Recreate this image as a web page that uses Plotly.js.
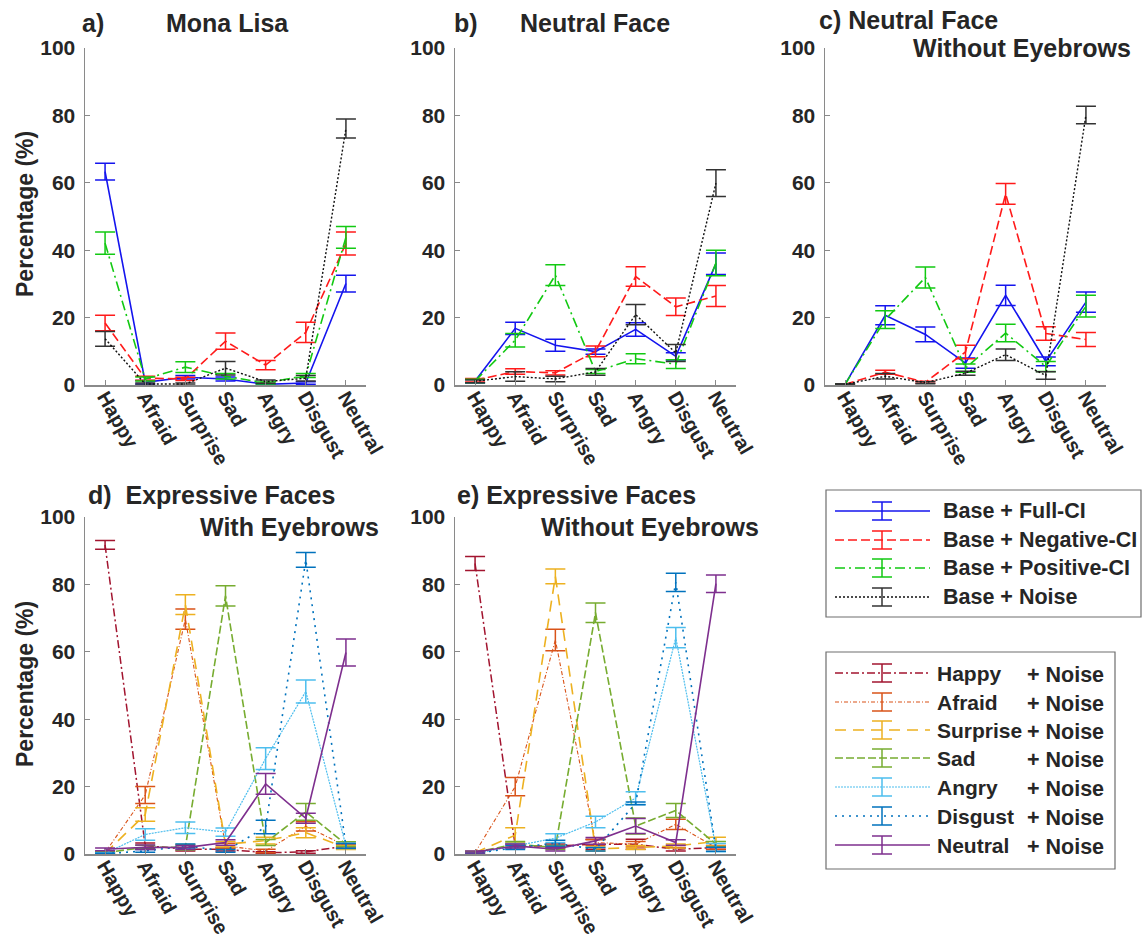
<!DOCTYPE html>
<html>
<head>
<meta charset="utf-8">
<script src="https://cdn.plot.ly/plotly-3.0.1.min.js"></script>
<style>html,body{margin:0;padding:0;background:#fff;}#chart{width:1142px;height:939px;}</style>
</head>
<body>
<div id="chart"></div>
<script>
// ---------- DATA ----------
const categories = ["Happy","Afraid","Surprise","Sad","Angry","Disgust","Neutral"];
const yTicks = [0,20,40,60,80,100];

// a) Mona Lisa
const monaFull      = [63.3, 0.8, 2.3, 1.8, 0.2, 0.6, 30.1];
const monaFullErr   = [2.5, 0.5, 0.5, 0.6, 0.2, 0.4, 2.5];
const monaNeg       = [18.4, 2.0, 1.8, 13.0, 5.9, 15.6, 42.0];
const monaNegErr    = [2.3, 0.6, 0.5, 2.4, 1.4, 3.0, 3.4];
const monaPos       = [42.1, 1.8, 5.3, 2.6, 0.6, 2.8, 43.8];
const monaPosErr    = [3.3, 0.6, 1.6, 0.8, 0.3, 0.6, 3.2];
const monaNoise     = [13.7, 0.3, 0.3, 5.0, 1.0, 2.0, 76.1];
const monaNoiseErr  = [2.2, 0.3, 0.3, 2.0, 0.5, 0.8, 2.8];

// b) Neutral Face
const neutFull      = [1.2, 16.8, 11.8, 9.9, 16.5, 8.5, 36.0];
const neutFullErr   = [0.6, 1.8, 1.8, 0.8, 2.0, 1.1, 3.2];
const neutNeg       = [1.4, 4.0, 3.6, 10.0, 32.2, 23.2, 26.4];
const neutNegErr    = [0.5, 0.8, 0.6, 1.6, 2.9, 2.6, 3.1];
const neutPos       = [1.2, 13.3, 32.6, 4.0, 7.8, 6.2, 36.2];
const neutPosErr    = [0.5, 2.0, 3.1, 0.6, 1.5, 1.3, 3.8];
const neutNoise     = [1.1, 2.5, 1.8, 3.9, 20.9, 9.5, 59.9];
const neutNoiseErr  = [0.4, 1.4, 0.8, 1.0, 3.0, 2.5, 4.0];

// c) Neutral Face Without Eyebrows
const nobFull       = [0.2, 20.7, 15.0, 6.5, 26.6, 7.0, 24.6];
const nobFullErr    = [0.2, 2.8, 2.2, 1.5, 3.0, 1.3, 3.0];
const nobNeg        = [0.2, 3.8, 0.8, 9.8, 56.7, 15.3, 13.5];
const nobNegErr     = [0.2, 0.6, 0.3, 2.0, 3.1, 2.0, 2.1];
const nobPos        = [0.2, 19.4, 31.9, 5.0, 15.4, 5.5, 23.4];
const nobPosErr     = [0.2, 2.6, 3.1, 1.2, 2.6, 1.5, 3.2];
const nobNoise      = [0.2, 2.6, 0.7, 3.5, 9.0, 2.8, 80.1];
const nobNoiseErr   = [0.2, 0.8, 0.3, 0.6, 1.7, 1.1, 2.6];

// d) Expressive Faces With Eyebrows
const withHappy     = [91.7, 2.5, 1.4, 1.4, 0.4, 0.6, 2.4];
const withHappyErr  = [1.3, 0.8, 0.5, 0.5, 0.3, 0.4, 0.6];
const withAfraid    = [0.4, 17.5, 69.7, 2.4, 0.9, 8.2, 2.4];
const withAfraidErr = [0.3, 2.5, 3.0, 0.8, 0.5, 1.4, 0.7];
const withSurp      = [0.2, 11.7, 74.0, 2.9, 4.0, 6.3, 1.9];
const withSurpErr   = [0.2, 2.0, 2.9, 0.8, 1.0, 1.5, 0.6];
const withSad       = [0.4, 2.0, 2.0, 76.6, 3.4, 12.5, 2.9];
const withSadErr    = [0.3, 0.6, 0.8, 3.0, 0.9, 2.5, 0.7];
const withAngry     = [0.2, 5.8, 7.8, 6.5, 28.3, 48.2, 2.4];
const withAngryErr  = [0.2, 1.7, 1.7, 1.2, 3.2, 3.4, 0.8];
const withDisg      = [0.1, 0.9, 2.4, 0.9, 8.0, 87.3, 2.4];
const withDisgErr   = [0.1, 0.4, 0.6, 0.4, 2.0, 2.2, 0.7];
const withNeut      = [1.4, 2.0, 1.9, 3.4, 20.8, 10.6, 59.8];
const withNeutErr   = [0.4, 0.7, 0.6, 0.8, 3.1, 1.5, 4.0];

// e) Expressive Faces Without Eyebrows
const woHappy       = [86.2, 2.4, 2.4, 2.9, 2.9, 1.4, 1.9];
const woHappyErr    = [2.1, 0.6, 0.6, 1.5, 1.5, 0.5, 0.5];
const woAfraid      = [0.4, 20.0, 63.5, 3.4, 2.9, 8.8, 1.9];
const woAfraidErr   = [0.3, 2.7, 3.2, 0.8, 0.8, 1.5, 0.6];
const woSurp        = [0.4, 5.6, 82.4, 1.5, 1.9, 2.4, 3.7];
const woSurpErr     = [0.3, 2.2, 2.2, 0.6, 0.6, 0.6, 1.3];
const woSad         = [0.5, 2.9, 1.9, 71.6, 8.3, 12.9, 2.9];
const woSadErr      = [0.3, 0.8, 0.6, 2.9, 2.4, 2.1, 0.8];
const woAngry       = [0.1, 2.4, 4.7, 9.5, 16.6, 64.2, 1.9];
const woAngryErr    = [0.1, 0.7, 1.3, 1.7, 1.9, 3.0, 1.2];
const woDisg        = [0.1, 1.9, 3.2, 1.4, 15.0, 80.6, 1.4];
const woDisgErr     = [0.1, 0.6, 0.9, 0.5, 0.4, 2.7, 0.6];
const woNeut        = [0.6, 2.4, 1.4, 3.9, 8.3, 3.4, 80.2];
const woNeutErr     = [0.3, 0.6, 0.5, 1.0, 2.2, 0.8, 2.6];

const baseNames = ["Base + Full-CI","Base + Negative-CI","Base + Positive-CI","Base + Noise"];
const exprNames = ["Happy","Afraid","Surprise","Sad","Angry","Disgust","Neutral"];

// ---------- STYLES ----------
const baseStyles = [
  {color:"#1414ee", err:"#1414ee", dash:"solid", width:1.6},
  {color:"#ff1a1a", err:"#ff1a1a", dash:"9px,4px", width:1.6},
  {color:"#12c912", err:"#12c912", dash:"10px,4px,2px,4px", width:1.6},
  {color:"#111111", err:"#333333", dash:"2px,2px", width:1.4}
];
const exprStyles = [
  {color:"#A2142F", dash:"8px,3px,2px,3px", width:1.5},
  {color:"#D95319", dash:"4px,2px,1px,2px", width:1.1},
  {color:"#EDB120", dash:"11px,7px", width:1.6},
  {color:"#77AC30", dash:"8px,3px", width:1.6},
  {color:"#4DBEEE", dash:"2px,1px", width:1.2},
  {color:"#0072BD", dash:"2px,5px", width:1.6},
  {color:"#7E2F8E", dash:"solid", width:1.6}
];

const W = 1142, H = 939;
const px = x => x / W;
const py = y => 1 - y / H;
const FONT = "Liberation Sans, Arial, Helvetica, sans-serif";
const TXT = "#262626";

function mk(y, err, st, ax, errColor) {
  return {
    type: "scatter", mode: "lines", x: categories, y: y,
    xaxis: "x" + ax, yaxis: "y" + ax, showlegend: false, cliponaxis: false,
    line: {color: st.color, dash: st.dash, width: st.width},
    error_y: {type: "data", array: err, visible: true, width: 10, thickness: 1.5, color: errColor || st.color},
    hoverinfo: "skip"
  };
}

const baseSets = [
  [[monaFull,monaFullErr],[monaNeg,monaNegErr],[monaPos,monaPosErr],[monaNoise,monaNoiseErr]],
  [[neutFull,neutFullErr],[neutNeg,neutNegErr],[neutPos,neutPosErr],[neutNoise,neutNoiseErr]],
  [[nobFull,nobFullErr],[nobNeg,nobNegErr],[nobPos,nobPosErr],[nobNoise,nobNoiseErr]]
];
const exprSets = [
  [[withHappy,withHappyErr],[withAfraid,withAfraidErr],[withSurp,withSurpErr],[withSad,withSadErr],[withAngry,withAngryErr],[withDisg,withDisgErr],[withNeut,withNeutErr]],
  [[woHappy,woHappyErr],[woAfraid,woAfraidErr],[woSurp,woSurpErr],[woSad,woSadErr],[woAngry,woAngryErr],[woDisg,woDisgErr],[woNeut,woNeutErr]]
];

const traces = [];
baseSets.forEach((set, p) => {
  const ax = p === 0 ? "" : String(p + 1);
  set.forEach((s, i) => traces.push(mk(s[0], s[1], baseStyles[i], ax, baseStyles[i].err)));
});
exprSets.forEach((set, p) => {
  const ax = String(p + 4);
  set.forEach((s, i) => traces.push(mk(s[0], s[1], exprStyles[i], ax)));
});

// ---------- AXES ----------
const xDomains = [[85,366],[455,736],[825,1106],[85,366],[455,736]];
const yDomains = [[48,385],[48,385],[48,385],[517,854],[517,854]];
const layout = {
  width: W, height: H, margin: {l:0, r:0, t:0, b:0},
  paper_bgcolor: "#fff", plot_bgcolor: "rgba(0,0,0,0)",
  showlegend: false, annotations: [], shapes: []
};
const tickFont = {family: FONT, size: 21, color: TXT, weight: "bold"};
const xTickFont = {family: FONT, size: 20, color: TXT, weight: "bold"};
for (let i = 0; i < 5; i++) {
  const s = i === 0 ? "" : String(i + 1);
  layout["xaxis" + s] = {
    domain: [px(xDomains[i][0]), px(xDomains[i][1])], anchor: "y" + s,
    type: "category", categoryorder: "array", categoryarray: categories,
    range: [-0.5, 6.5], showline: true, linecolor: "#8a8a8a", linewidth: 1.5,
    ticks: "inside", ticklen: 5, tickwidth: 1, tickcolor: "#8a8a8a",
    showgrid: false, zeroline: false, tickangle: 60, tickfont: xTickFont,
    ticklabelstandoff: -9, fixedrange: true
  };
  layout["yaxis" + s] = {
    domain: [py(yDomains[i][1]), py(yDomains[i][0])], anchor: "x" + s,
    range: [0, 100], tickvals: yTicks, showline: true, linecolor: "#8a8a8a", linewidth: 1.5,
    ticks: "inside", ticklen: 5, tickwidth: 1, tickcolor: "#8a8a8a",
    showgrid: false, zeroline: false, tickfont: tickFont, ticklabelstandoff: 4, fixedrange: true
  };
}

// ---------- TITLES ----------
function ann(text, x, y, xanchor, size, extra) {
  layout.annotations.push(Object.assign({
    text: text, xref: "paper", yref: "paper", x: px(x), y: py(y),
    xanchor: xanchor, yanchor: "middle", showarrow: false,
    font: {family: FONT, size: size, color: TXT, weight: "bold"}
  }, extra || {}));
}
ann("a)", 80, 23, "left", 25);
ann("Mona Lisa", 228, 23, "center", 25);
ann("b)", 452, 23, "left", 25);
ann("Neutral Face", 595, 23, "center", 25);
ann("c) Neutral Face", 817, 20, "left", 25);
ann("Without Eyebrows", 1133, 48, "right", 25);
ann("d)  Expressive Faces", 86, 495, "left", 25);
ann("With Eyebrows", 381, 527, "right", 25);
ann("e) Expressive Faces", 455, 495, "left", 25);
ann("Without Eyebrows", 761, 527, "right", 25);
ann("Percentage (%)", 25, 214, "center", 23, {textangle: -90});
ann("Percentage (%)", 25, 684, "center", 23, {textangle: -90});

// ---------- LEGENDS ----------
function legendBox(x0, y0, x1, y1) {
  layout.shapes.push({type: "rect", xref: "paper", yref: "paper",
    x0: px(x0), x1: px(x1), y0: py(y1), y1: py(y0),
    line: {color: "#6e6e6e", width: 1.2}, fillcolor: "rgba(0,0,0,0)"});
}
function legendSample(y, st, errColor) {
  const L = (xa, ya, xb, yb, c, dash, w) => layout.shapes.push({type: "line", xref: "paper", yref: "paper",
    x0: px(xa), y0: py(ya), x1: px(xb), y1: py(yb), line: {color: c, dash: dash, width: w}});
  L(835, y, 930, y, st.color, st.dash, st.width);
  const ec = errColor || st.color;
  L(882, y - 9, 882, y + 9, ec, "solid", 1.5);
  L(872, y - 9, 892, y - 9, ec, "solid", 1.5);
  L(872, y + 9, 892, y + 9, ec, "solid", 1.5);
}
legendBox(826, 490, 1141, 617);
const row1 = [511, 540, 568, 597];
baseNames.forEach((n, i) => {
  legendSample(row1[i], baseStyles[i], baseStyles[i].err);
  ann(n, 941, row1[i], "left", 21.5);
});
legendBox(826, 652, 1115, 869);
const row2 = [673, 702, 730, 758, 787, 816, 845];
exprNames.forEach((n, i) => {
  legendSample(row2[i], exprStyles[i]);
  ann(n, 935, row2[i], "left", 21);
  ann("+ Noise", 1025, row2[i] + 2, "left", 21.5);
});

Plotly.newPlot("chart", traces, layout, {staticPlot: true, displayModeBar: false});
</script>
</body>
</html>
